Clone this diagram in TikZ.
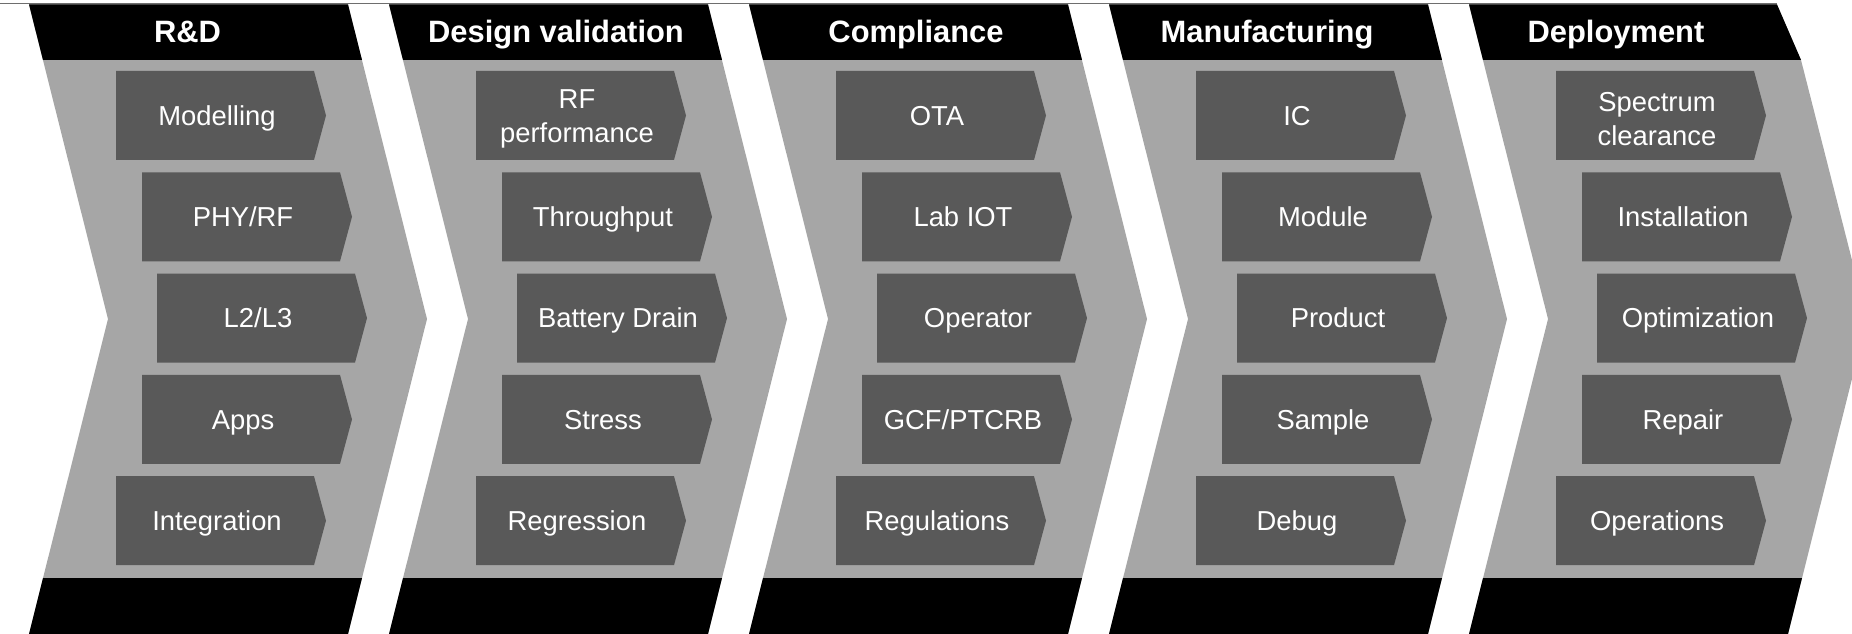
\documentclass[tikz,border=0pt]{standalone}
\usepackage{fontspec}
\setmainfont{Liberation Sans}
\definecolor{chevgray}{HTML}{A6A6A6}
\definecolor{boxgray}{HTML}{595959}
\definecolor{rulegray}{HTML}{6E6E6E}
\tikzset{
  chevron/.style={fill=chevgray},
  band/.style={fill=black},
  boxfill/.style={fill=boxgray},
  headtext/.style={text=white, font=\bfseries\fontsize{31}{36}\selectfont, inner sep=0pt, anchor=base},
  boxtext/.style={text=white, font=\fontsize{27.5}{34}\selectfont, inner sep=0pt, align=center},
}
% #1 name, #2 chevron index, #3 row index, #4 text
\newcommand\procbox[4]{%
  \pgfmathsetmacro\bx{360*#2 + {116,142,157,142,116}[#3]}%
  \pgfmathsetmacro\by{115.5+101.3*#3}%
  \fill[boxfill] (\bx,\by-44.5) -- ++(198,0) -- ++(12,44.5) -- ++(-12,44.5) -- ++(-198,0) -- cycle;
  \node[boxtext, anchor=base] (#1) at (\bx+101,\by+9.8) {#4};
}
\newcommand\procboxtwo[4]{%
  \pgfmathsetmacro\bx{360*#2 + {116,142,157,142,116}[#3]}%
  \pgfmathsetmacro\by{115.5+101.3*#3}%
  \fill[boxfill] (\bx,\by-44.5) -- ++(198,0) -- ++(12,44.5) -- ++(-12,44.5) -- ++(-198,0) -- cycle;
  \node[boxtext, anchor=center] (#1) at (\bx+101,\by+3.5) {#4};
}
\begin{document}
\begin{tikzpicture}[x=1bp, y=-1bp]
\useasboundingbox (0,0) rectangle (1852,634);
\clip (0,0) rectangle (1852,634);
\draw[rulegray, line width=1bp] (0,4) -- (1777,4);
% chevrons
\foreach \k in {0,...,3}{
  \pgfmathsetmacro\o{360*\k}
  \fill[chevron] (29+\o,4.5) -- (348+\o,4.5) -- (427+\o,319) -- (348+\o,634) -- (29+\o,634) -- (108+\o,319) -- cycle;
  \fill[band] (43+\o,578) -- (362+\o,578) -- (348+\o,634) -- (29+\o,634) -- cycle;
  \fill[band] (29+\o,4.5) -- (348+\o,4.5) -- (362+\o,60) -- (43+\o,60) -- cycle;
}
% last chevron (its tip runs past the right edge)
\fill[chevron] (1469,4.5) -- (1777,4.5) -- (1801,60) -- (1867,319) -- (1788,634) -- (1469,634) -- (1548,319) -- cycle;
\fill[band] (1483,578) -- (1802,578) -- (1788,634) -- (1469,634) -- cycle;
\fill[band] (1469,4.5) -- (1777,4.5) -- (1801,60) -- (1483,60) -- cycle;
% headers
\node[headtext] (h1) at (187.5,43) {R\&D};
\node[headtext] (h2) at (556,43) {Design validation};
\node[headtext] (h3) at (916,43) {Compliance};
\node[headtext] (h4) at (1267,43) {Manufacturing};
\node[headtext] (h5) at (1616,43) {Deployment};
% R&D
\procbox{a1}{0}{0}{Modelling}
\procbox{a2}{0}{1}{PHY/RF}
\procbox{a3}{0}{2}{L2/L3}
\procbox{a4}{0}{3}{Apps}
\procbox{a5}{0}{4}{Integration}
% Design validation
\procboxtwo{b1}{1}{0}{RF\\performance}
\procbox{b2}{1}{1}{Throughput}
\procbox{b3}{1}{2}{Battery Drain}
\procbox{b4}{1}{3}{Stress}
\procbox{b5}{1}{4}{Regression}
% Compliance
\procbox{c1}{2}{0}{OTA}
\procbox{c2}{2}{1}{Lab IOT}
\procbox{c3}{2}{2}{Operator}
\procbox{c4}{2}{3}{GCF/PTCRB}
\procbox{c5}{2}{4}{Regulations}
% Manufacturing
\procbox{d1}{3}{0}{IC}
\procbox{d2}{3}{1}{Module}
\procbox{d3}{3}{2}{Product}
\procbox{d4}{3}{3}{Sample}
\procbox{d5}{3}{4}{Debug}
% Deployment
\procboxtwo{e1}{4}{0}{Spectrum\\clearance}
\procbox{e2}{4}{1}{Installation}
\procbox{e3}{4}{2}{Optimization}
\procbox{e4}{4}{3}{Repair}
\procbox{e5}{4}{4}{Operations}
\end{tikzpicture}
\end{document}
